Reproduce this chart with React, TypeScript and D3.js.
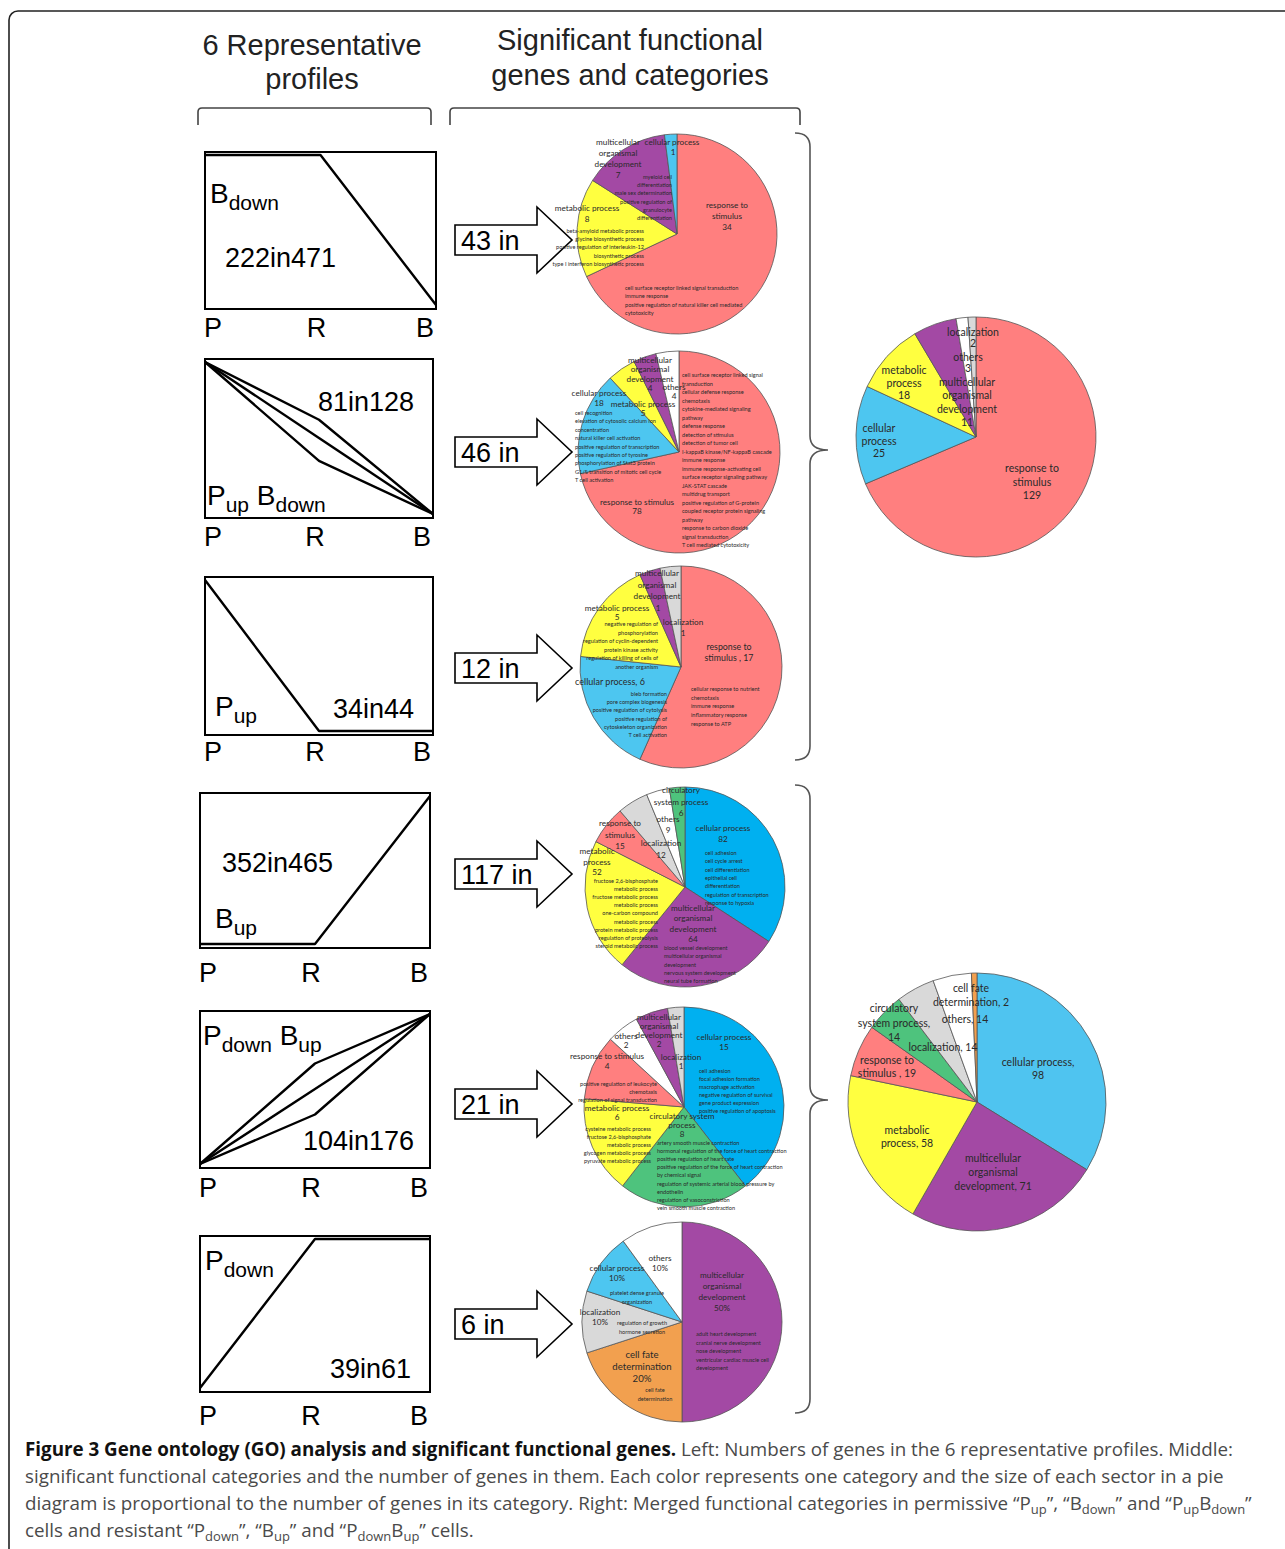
import React from 'react';
import * as d3 from 'd3';

// ---------------- DATA ----------------
const timePoints = ['P', 'R', 'B'];
// expression level at P, R, B for each representative profile (0 = low, 1 = high)
const profileLines: number[][][] = [
  [[1, 1, 0]],
  [[1, 0.62, 0], [1, 0.5, 0], [1, 0.35, 0]],
  [[1, 0, 0]],
  [[0, 0, 1]],
  [[0, 0.67, 1], [0, 0.5, 1], [0, 0.33, 1]],
  [[0, 1, 1]],
];
const profileNames: [string, boolean][][] = [
  [['B', false], ['down', true]],
  [['P', false], ['up', true], [' B', false], ['down', true]],
  [['P', false], ['up', true]],
  [['B', false], ['up', true]],
  [['P', false], ['down', true], [' B', false], ['up', true]],
  [['P', false], ['down', true]],
];
const profileCounts = ['222in471', '81in128', '34in44', '352in465', '104in176', '39in61'];
const arrowCounts = ['43 in', '46 in', '12 in', '117 in', '21 in', '6 in'];

const pie1Cats = ['RS', 'MP', 'MOD', 'CP'];
const pie1Vals = [34, 8, 7, 1];
const pie2Cats = ['RS', 'CP', 'MP', 'MOD', 'OT'];
const pie2Vals = [78, 18, 5, 4, 4];
const pie3Cats = ['RS', 'CP', 'MP', 'MOD', 'LO'];
const pie3Vals = [17, 6, 5, 1, 1];
const pie4Cats = ['CP', 'MOD', 'MP', 'RS', 'LO', 'OT', 'CSP'];
const pie4Vals = [82, 64, 52, 15, 12, 9, 6];
const pie5Cats = ['CP', 'CSP', 'MP', 'RS', 'OT', 'MOD', 'LO'];
const pie5Vals = [15, 8, 6, 4, 2, 2, 1];
const pie6Cats = ['MOD', 'CFD', 'LO', 'CP', 'OT'];
const pie6Vals = [50, 20, 10, 10, 10];
const merged1Cats = ['RS', 'CP', 'MP', 'MOD', 'OT', 'LO'];
const merged1Vals = [129, 25, 18, 11, 3, 2];
const merged2Cats = ['CP', 'MOD', 'MP', 'RS', 'CSP', 'LO', 'OT', 'CFD'];
const merged2Vals = [98, 71, 58, 19, 14, 14, 14, 2];

// ---------------- LABELS (text + offsets from pie centre) ----------------
type Block = { l: string[]; dx: number; dy: number; a?: string; k?: string; s?: number; fs?: number };

const pie1Labels: Block[] = [
  { l: ['multicellular', 'organismal', 'development', '7'], dx: -59, dy: -92, s: 11 },
  { l: ['cellular process'], dx: -5, dy: -92 },
  { l: ['1'], dx: -4, dy: -82 },
  { l: ['myeloid cell', 'differentiation', 'male sex determination', 'positive regulation of', 'granulocyte', 'differentiation'], dx: -5, dy: -58, a: 'end', k: 'g', s: 8.2 },
  { l: ['metabolic process', '8'], dx: -90, dy: -26, s: 11 },
  { l: ['beta-amyloid metabolic process', 'glycine biosynthetic process', 'positive regulation of interleukin-12', 'biosynthetic process', 'type I interferon biosynthetic process'], dx: -33, dy: -4, a: 'end', k: 'g', s: 8.2 },
  { l: ['response to', 'stimulus', '34'], dx: 50, dy: -29, s: 11 },
  { l: ['cell surface receptor linked signal transduction', 'immune response', 'positive regulation of natural killer cell mediated', 'cytotoxicity'], dx: -52, dy: 53, a: 'start', k: 'g', s: 8.3 },
];
const pie2Labels: Block[] = [
  { l: ['multicellular', 'organismal', 'development', '4'], dx: -29, dy: -92, s: 9.3 },
  { l: ['others', '4'], dx: -5, dy: -65, s: 9 },
  { l: ['cellular process', '18'], dx: -80, dy: -59, s: 10 },
  { l: ['metabolic process', '5'], dx: -36, dy: -48, s: 9 },
  { l: ['cell recognition', 'elevation of cytosolic calcium ion', 'concentration', 'natural killer cell activation', 'positive regulation of transcription', 'positive regulation of tyrosine', 'phosphorylation of Stat3 protein', 'G1/S transition of mitotic cell cycle', 'T cell activation'], dx: -104, dy: -40, a: 'start', k: 'g', s: 8.4 },
  { l: ['cell surface receptor linked signal', 'transduction', 'cellular defense response', 'chemotaxis', 'cytokine-mediated signaling', 'pathway', 'defense response', 'detection of stimulus', 'detection of tumor cell', 'I-kappaB kinase/NF-kappaB cascade', 'immune response', 'immune response-activating cell', 'surface receptor signaling pathway', 'JAK-STAT cascade', 'multidrug transport', 'positive regulation of G-protein', 'coupled receptor protein signaling', 'pathway', 'response to carbon dioxide', 'signal transduction', 'T cell mediated cytotoxicity'], dx: 3, dy: -78, a: 'start', k: 'g', s: 8.5 },
  { l: ['response to stimulus', '78'], dx: -42, dy: 50, s: 9 },
];
const pie3Labels: Block[] = [
  { l: ['multicellular', 'organismal', 'development'], dx: -24, dy: -94, s: 11.5 },
  { l: ['metabolic process', '5'], dx: -64, dy: -59, s: 9 },
  { l: ['1'], dx: -23, dy: -59 },
  { l: ['localization', '1'], dx: 2, dy: -45, s: 11 },
  { l: ['negative regulation of', 'phosphorylation', 'regulation of cyclin-dependent', 'protein kinase activity', 'regulation of killing of cells of', 'another organism'], dx: -23, dy: -44, a: 'end', k: 'g', s: 8.6 },
  { l: ['cellular process, 6'], dx: -71, dy: 14, fs: 9 },
  { l: ['bleb formation', 'pore complex biogenesis', 'positive regulation of cytolysis', 'positive regulation of', 'cytoskeleton organization', 'T cell activation'], dx: -14, dy: 26, a: 'end', k: 'g', s: 8.2 },
  { l: ['response to', 'stimulus , 17'], dx: 48, dy: -21, s: 11, fs: 8.8 },
  { l: ['cellular response to nutrient', 'chemotaxis', 'immune response', 'inflammatory response', 'response to ATP'], dx: 10, dy: 21, a: 'start', k: 'g', s: 8.7 },
];
const pie4Labels: Block[] = [
  { l: ['circulatory', 'system process', '6'], dx: -4, dy: -97, s: 11.5 },
  { l: ['others', '9'], dx: -17, dy: -68, s: 11 },
  { l: ['response to', 'stimulus', '15'], dx: -65, dy: -64, s: 11.5 },
  { l: ['localization', '12'], dx: -24, dy: -44, s: 12 },
  { l: ['metabolic', 'process', '52'], dx: -88, dy: -36, s: 10.5 },
  { l: ['fructose 2,6-bisphosphate', 'metabolic process', 'fructose metabolic process', 'metabolic process', 'one-carbon compound', 'metabolic process', 'protein metabolic process', 'regulation of proteolysis', 'steroid metabolic process'], dx: -27, dy: -7, a: 'end', k: 'g', s: 8.1 },
  { l: ['cellular process', '82'], dx: 38, dy: -59, s: 11 },
  { l: ['cell adhesion', 'cell cycle arrest', 'cell differentiation', 'epithelial cell', 'differentiation', 'regulation of transcription', 'response to hypoxia'], dx: 20, dy: -35, a: 'start', k: 'g', s: 8.3 },
  { l: ['multicellular', 'organismal', 'development', '64'], dx: 8, dy: 21, s: 10.3 },
  { l: ['blood vessel development', 'multicellular organismal', 'development', 'nervous system development', 'neural tube formation'], dx: -21, dy: 60, a: 'start', k: 'g', s: 8.3 },
];
const pie5Labels: Block[] = [
  { l: ['multicellular', 'organismal', 'development', '2'], dx: -25, dy: -90, s: 9 },
  { l: ['others', '2'], dx: -58, dy: -71, s: 9 },
  { l: ['localization', '1'], dx: -3, dy: -50, s: 9 },
  { l: ['cellular process', '15'], dx: 40, dy: -70, s: 10 },
  { l: ['cell adhesion', 'focal adhesion formation', 'macrophage activation', 'negative regulation of survival', 'gene product expression', 'positive regulation of apoptosis'], dx: 15, dy: -37, a: 'start', k: 'g', s: 8 },
  { l: ['response to stimulus', '4'], dx: -77, dy: -51, s: 10 },
  { l: ['positive regulation of leukocyte', 'chemotaxis', 'regulation of signal transduction'], dx: -27, dy: -24, a: 'end', k: 'g', s: 8 },
  { l: ['metabolic process', '6'], dx: -67, dy: 1, s: 9 },
  { l: ['cysteine metabolic process', 'fructose 2,6-bisphosphate', 'metabolic process', 'glycogen metabolic process', 'pyruvate metabolic process'], dx: -33, dy: 21, a: 'end', k: 'g', s: 8 },
  { l: ['circulatory system', 'process', '8'], dx: -2, dy: 9, s: 9 },
  { l: ['artery smooth muscle contraction', 'hormonal regulation of the force of heart contraction', 'positive regulation of heart rate', 'positive regulation of the force of heart contraction', 'by chemical signal', 'regulation of systemic arterial blood pressure by', 'endothelin', 'regulation of vasoconstriction', 'vein smooth muscle contraction'], dx: -27, dy: 35, a: 'start', k: 'g', s: 8.1 },
];
const pie6Labels: Block[] = [
  { l: ['others', '10%'], dx: -22, dy: -64, s: 10 },
  { l: ['cellular process', '10%'], dx: -65, dy: -54, s: 10 },
  { l: ['platelet dense granule', 'organization'], dx: -45, dy: -30, k: 'g', s: 9 },
  { l: ['localization', '10%'], dx: -82, dy: -10, s: 10 },
  { l: ['regulation of growth', 'hormone secretion'], dx: -40, dy: 0, k: 'g', s: 9 },
  { l: ['multicellular', 'organismal', 'development', '50%'], dx: 40, dy: -47, s: 11 },
  { l: ['adult heart development', 'cranial nerve development', 'nose development', 'ventricular cardiac muscle cell', 'development'], dx: 14, dy: 11, a: 'start', k: 'g', s: 8.5 },
  { l: ['cell fate', 'determination', '20%'], dx: -40, dy: 32, s: 12, fs: 9.6 },
  { l: ['cell fate', 'determination'], dx: -27, dy: 67, k: 'g', s: 9 },
];
const merged1Labels: Block[] = [
  { l: ['localization', '2'], dx: -3, dy: -105, s: 11 },
  { l: ['others', '3'], dx: -8, dy: -80, s: 11 },
  { l: ['multicellular', 'organismal', 'development', '11'], dx: -9, dy: -55, s: 13.3 },
  { l: ['metabolic', 'process', '18'], dx: -72, dy: -67, s: 12.5 },
  { l: ['cellular', 'process', '25'], dx: -97, dy: -9, s: 12.5 },
  { l: ['response to', 'stimulus', '129'], dx: 56, dy: 31, s: 13.5 },
];
const merged2Labels: Block[] = [
  { l: ['cell fate', 'determination, 2'], dx: -6, dy: -114, s: 14 },
  { l: ['circulatory', 'system process,', '14'], dx: -83, dy: -94, s: 14.5 },
  { l: ['others, 14'], dx: -12, dy: -83 },
  { l: ['localization, 14'], dx: -34, dy: -55 },
  { l: ['response to', 'stimulus , 19'], dx: -90, dy: -42, s: 13 },
  { l: ['cellular process,', '98'], dx: 61, dy: -40, s: 12.5 },
  { l: ['metabolic', 'process, 58'], dx: -70, dy: 28, s: 13 },
  { l: ['multicellular', 'organismal', 'development, 71'], dx: 16, dy: 56, s: 14 },
];

const captionLines: [string, number][][] = [
  [['Figure 3 Gene ontology (GO) analysis and significant functional genes.', 2], [' Left: Numbers of genes in the 6 representative profiles. Middle:', 0]],
  [['significant functional categories and the number of genes in them. Each color represents one category and the size of each sector in a pie', 0]],
  [['diagram is proportional to the number of genes in its category. Right: Merged functional categories in permissive \u201CP', 0], ['up', 1], ['\u201D, \u201CB', 0], ['down', 1], ['\u201D and \u201CP', 0], ['up', 1], ['B', 0], ['down', 1], ['\u201D', 0]],
  [['cells and resistant \u201CP', 0], ['down', 1], ['\u201D, \u201CB', 0], ['up', 1], ['\u201D and \u201CP', 0], ['down', 1], ['B', 0], ['up', 1], ['\u201D cells.', 0]],
];

// ---------------- STYLE / LAYOUT ----------------
const CAT_COLOR: Record<string, string> = {
  RS: '#FF7F7F', MP: '#FFFF40', MOD: '#A349A4', CP: '#4DC6F0',
  OT: '#FFFFFF', LO: '#D9D9D9', CSP: '#4EC37D', CFD: '#F2A04F',
};
const DEEP_CYAN = '#00B0F0';

const frames = [
  { x0: 205, x1: 436, y0: 152, y1: 309, ly: 337 },
  { x0: 205, x1: 433, y0: 359, y1: 518, ly: 546 },
  { x0: 205, x1: 433, y0: 577, y1: 735, ly: 761 },
  { x0: 200, x1: 430, y0: 793, y1: 948, ly: 982 },
  { x0: 200, x1: 430, y0: 1011, y1: 1168, ly: 1197 },
  { x0: 200, x1: 430, y0: 1236, y1: 1392, ly: 1425 },
];
const nameOffsets = [[5, 51], [2, 146], [10, 139], [15, 135], [3, 34], [5, 34]];
const countOffsets = [[20, 115], [113, 52], [128, 141], [22, 79], [103, 139], [130, 142]];
const arrowY = [240, 452, 668, 874, 1104, 1324];

const midPies = [
  { cx: 677, cy: 234, r: 100, cats: pie1Cats, vals: pie1Vals, labels: pie1Labels, cyan: CAT_COLOR.CP },
  { cx: 679, cy: 452, r: 101, cats: pie2Cats, vals: pie2Vals, labels: pie2Labels, cyan: CAT_COLOR.CP },
  { cx: 681, cy: 667, r: 101, cats: pie3Cats, vals: pie3Vals, labels: pie3Labels, cyan: CAT_COLOR.CP },
  { cx: 685, cy: 887, r: 100, cats: pie4Cats, vals: pie4Vals, labels: pie4Labels, cyan: DEEP_CYAN },
  { cx: 684, cy: 1107, r: 100, cats: pie5Cats, vals: pie5Vals, labels: pie5Labels, cyan: DEEP_CYAN },
  { cx: 682, cy: 1322, r: 100, cats: pie6Cats, vals: pie6Vals, labels: pie6Labels, cyan: CAT_COLOR.CP },
];
const mergedPies = [
  { cx: 976, cy: 437, r: 120, cats: merged1Cats, vals: merged1Vals, labels: merged1Labels, cyan: CAT_COLOR.CP },
  { cx: 977, cy: 1102, r: 129, cats: merged2Cats, vals: merged2Vals, labels: merged2Labels, cyan: '#4FC4F0' },
];

const SANS = '"Liberation Sans", Arial, sans-serif';
const PIEFONT = 'Lato, "Open Sans", sans-serif';

function Segs({ segs, sub, shift }: { segs: [string, any][]; sub: number; shift: number }) {
  let state = false;
  return (
    <>
      {segs.map(([t, s], i) => {
        const isSub = s === true || s === 1;
        let dy: number | undefined;
        if (isSub && !state) dy = shift;
        else if (!isSub && state) dy = -shift;
        state = isSub;
        return (
          <tspan key={i} dy={dy} fontSize={isSub ? sub : undefined} fontWeight={s === 2 ? 700 : undefined} fill={s === 2 ? '#111' : undefined}>
            {t}
          </tspan>
        );
      })}
    </>
  );
}

function Pie({ p, big }: { p: any; big: boolean }) {
  const arcs = d3.pie<number>().sort(null).value((d) => d)(p.vals);
  const arcGen = d3.arc<d3.PieArcDatum<number>>().innerRadius(0).outerRadius(p.r);
  const fc = big ? 10.5 : 8.2;
  const fg = 5.6;
  return (
    <g transform={`translate(${p.cx},${p.cy})`}>
      {arcs.map((a, i) => {
        const c = p.cats[i];
        return (
          <path key={i} d={arcGen(a) || ''} fill={c === 'CP' ? p.cyan : CAT_COLOR[c]} stroke="#555" strokeWidth={0.8} />
        );
      })}
      {p.labels.map((b: Block, i: number) => {
        const isG = b.k === 'g';
        const fs = b.fs || (isG ? fg : fc);
        const step = b.s || fs * 1.25;
        return (
          <text key={'l' + i} textAnchor={b.a || 'middle'} fontSize={fs} fill="#2a2a2a" fontFamily={PIEFONT} dominantBaseline="central">
            {b.l.map((t, j) => (
              <tspan key={j} x={b.dx} y={b.dy + j * step}>{t}</tspan>
            ))}
          </text>
        );
      })}
    </g>
  );
}

function Profile({ i }: { i: number }) {
  const f = frames[i];
  const x = d3.scalePoint<string>().domain(timePoints).range([f.x0, f.x1]);
  const y = d3.scaleLinear().domain([0, 1]).range([f.y1 - 4, f.y0 + 3]);
  const line = d3.line<number>().x((_, k) => x(timePoints[k]) as number).y((d) => y(d));
  const labelShift = [8, -4, -11];
  return (
    <g>
      <rect x={f.x0} y={f.y0} width={f.x1 - f.x0} height={f.y1 - f.y0} fill="none" stroke="#000" strokeWidth={2} />
      {profileLines[i].map((vals, k) => (
        <path key={k} d={line(vals) || ''} fill="none" stroke="#000" strokeWidth={2.4} strokeLinejoin="round" />
      ))}
      <text x={f.x0 + nameOffsets[i][0]} y={f.y0 + nameOffsets[i][1]} fontSize={28} fontFamily={SANS} style={{ whiteSpace: 'pre' }}>
        <Segs segs={profileNames[i]} sub={21} shift={7} />
      </text>
      <text x={f.x0 + countOffsets[i][0]} y={f.y0 + countOffsets[i][1]} fontSize={27} fontFamily={SANS}>{profileCounts[i]}</text>
      {timePoints.map((t, k) => (
        <text key={t} x={(x(t) as number) + labelShift[k]} y={f.ly} fontSize={27} fontFamily={SANS} textAnchor="middle">{t}</text>
      ))}
    </g>
  );
}

function Arrow({ i }: { i: number }) {
  const cy = arrowY[i];
  const x0 = 455, xb = 537, xt = 572, hb = 15, hh = 33;
  const pts = [[x0, cy - hb], [xb, cy - hb], [xb, cy - hh], [xt, cy], [xb, cy + hh], [xb, cy + hb], [x0, cy + hb]];
  return (
    <g>
      <polygon points={pts.map((p) => p.join(',')).join(' ')} fill="#fff" stroke="#000" strokeWidth={1.6} />
      <text x={461} y={cy + 10} fontSize={27} fontFamily={SANS}>{arrowCounts[i]}</text>
    </g>
  );
}

function brace(top: number, bottom: number, tip: number) {
  const xs = 795, xm = 810, xt = 828, c = 14;
  return `M${xs},${top} Q${xm},${top} ${xm},${top + c} L${xm},${tip - c} Q${xm},${tip} ${xt},${tip} Q${xm},${tip} ${xm},${tip + c} L${xm},${bottom - c} Q${xm},${bottom} ${xs},${bottom}`;
}

function bracket(x0: number, x1: number, y: number, yb: number) {
  return `M${x0},${yb} L${x0},${y + 4} Q${x0},${y} ${x0 + 4},${y} L${x1 - 4},${y} Q${x1},${y} ${x1},${y + 4} L${x1},${yb}`;
}

export default function App() {
  return (
    <svg width={1285} height={1549} style={{ position: 'absolute', left: 0, top: 0, background: '#fff' }}>
      <rect x={9} y={11} width={1320} height={1600} rx={9} fill="none" stroke="#222" strokeWidth={1.6} />

      <g fontFamily={SANS} fontSize={29} fill="#222" textAnchor="middle">
        <text x={312} y={55}>6 Representative</text>
        <text x={312} y={89}>profiles</text>
        <text x={630} y={50}>Significant functional</text>
        <text x={630} y={85}>genes and categories</text>
      </g>
      <path d={bracket(198, 431, 108, 125)} fill="none" stroke="#444" strokeWidth={1.6} />
      <path d={bracket(450, 800, 108, 125)} fill="none" stroke="#444" strokeWidth={1.6} />

      {frames.map((_, i) => <Profile key={i} i={i} />)}
      {arrowY.map((_, i) => <Arrow key={i} i={i} />)}
      {midPies.map((p, i) => <Pie key={i} p={p} big={false} />)}

      <path d={brace(133, 760, 450)} fill="none" stroke="#555" strokeWidth={1.6} />
      <path d={brace(785, 1413, 1100)} fill="none" stroke="#555" strokeWidth={1.6} />

      {mergedPies.map((p, i) => <Pie key={i} p={p} big={true} />)}

      <g fontFamily='"Open Sans", "Noto Sans", sans-serif' fontSize={18.8} fill="#4a4a4a" style={{ whiteSpace: 'pre' }}>
        {captionLines.map((segs, i) => (
          <text key={i} x={25} y={1456 + i * 27}>
            <Segs segs={segs as any} sub={13} shift={4} />
          </text>
        ))}
      </g>
    </svg>
  );
}
